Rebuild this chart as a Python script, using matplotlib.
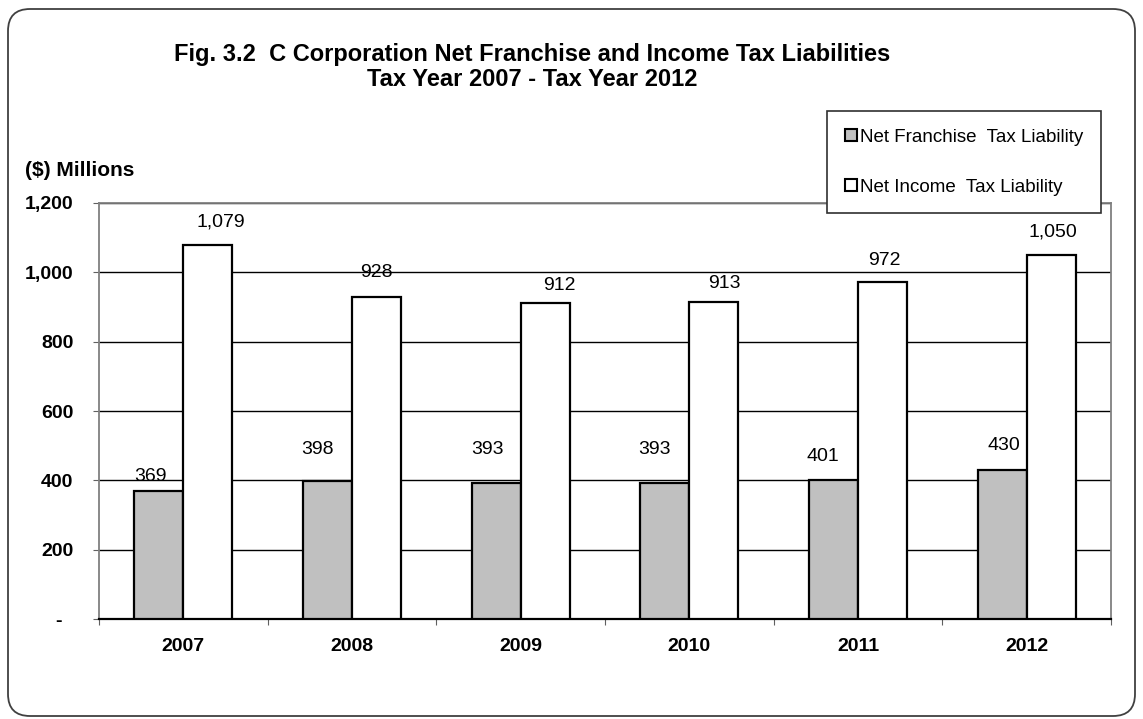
import matplotlib.pyplot as plt
from matplotlib.patches import Patch, FancyBboxPatch

plt.rcParams['font.family'] = ['Liberation Sans', 'DejaVu Sans']

years = ['2007', '2008', '2009', '2010', '2011', '2012']
franchise = [369, 398, 393, 393, 401, 430]
income = [1079, 928, 912, 913, 972, 1050]
y_ticks = [0, 200, 400, 600, 800, 1000, 1200]

# label nudges in pixels (dx, height of label centre above bar top), as placed in the original
franchise_nudge = [(-8, 15), (-10, 32), (-9, 33), (-10, 33), (-11, 23), (2, 24)]
income_nudge = [(13, 23), (0, 25), (14, 17), (11, 19), (2, 22), (2, 23)]

W, H = 1143, 719
fig = plt.figure(figsize=(W / 100, H / 100), dpi=100)

# rounded outer frame
frame = FancyBboxPatch((8, 3), 1127, 707, boxstyle='round,pad=0,rounding_size=22',
                       transform=None, facecolor='white', edgecolor='#404040',
                       linewidth=1.3, zorder=-5)
fig.patches.append(frame)

ax = fig.add_axes([99 / W, 100 / H, (1111 - 99) / W, (619 - 203) / H])
ax.set_facecolor('none')
ax.set_zorder(1)

x = list(range(len(years)))
bw = 0.29
gray_bars = ax.bar([i - bw / 2 for i in x], franchise, bw, color='#C0C0C0',
                   edgecolor='black', linewidth=1.6, zorder=3)
white_bars = ax.bar([i + bw / 2 for i in x], income, bw, color='white',
                    edgecolor='black', linewidth=1.6, zorder=3)

px = 72 / 100
for bars, vals, nudge in [(gray_bars, franchise, franchise_nudge),
                          (white_bars, income, income_nudge)]:
    for b, v, (dx, dy) in zip(bars, vals, nudge):
        ax.annotate(f'{v:,}', (b.get_x() + b.get_width() / 2, v),
                    xytext=(dx * px, dy * px), textcoords='offset points',
                    ha='center', va='center', fontsize=14, zorder=4)

ax.set_xlim(-0.5, len(years) - 0.5)
ax.set_ylim(0, 1200)
ax.set_yticks(y_ticks)
ax.set_yticklabels([f'{t:,}' if t else '-  ' for t in y_ticks],
                   fontsize=14, fontweight='bold')
ax.set_xticks([i - 0.5 for i in range(len(years) + 1)])
ax.set_xticklabels([])
ax.set_xticks(x, minor=True)
ax.set_xticklabels(years, minor=True, fontsize=14, fontweight='bold')
ax.tick_params(axis='x', which='major', length=4, color='#606060', direction='out')
ax.tick_params(axis='x', which='minor', length=0, pad=14)
ax.tick_params(axis='y', length=4.5, color='#606060', pad=14)

ax.yaxis.grid(True, color='black', linewidth=1)
ax.set_axisbelow(True)
for side in ['left', 'right', 'top']:
    ax.spines[side].set_color('#808080')
    ax.spines[side].set_linewidth(1.3)
ax.spines['bottom'].set_color('black')
ax.spines['bottom'].set_linewidth(1.6)

fig.text(532 / W, 1 - 67 / H,
         'Fig. 3.2  C Corporation Net Franchise and Income Tax Liabilities\nTax Year 2007 - Tax Year 2012',
         ha='center', va='center', fontsize=17, fontweight='bold', linespacing=1.1)
fig.text(25 / W, 1 - 170 / H, '($) Millions', ha='left', va='center',
         fontsize=15, fontweight='bold')

handles = [Patch(facecolor='#C0C0C0', edgecolor='black', linewidth=1.5),
           Patch(facecolor='white', edgecolor='black', linewidth=1.5)]
leg = fig.legend(handles, ['Net Franchise  Tax Liability', 'Net Income  Tax Liability'],
                 loc='upper left', bbox_to_anchor=(827 / W, 1 - 111 / H),
                 fontsize=13.5, handlelength=0.65, handleheight=0.65, handletextpad=0.15,
                 labelspacing=1.75, borderpad=0.95, borderaxespad=0,
                 fancybox=False, framealpha=1, edgecolor='#303030')
leg.get_frame().set_linewidth(1.2)
leg.set_zorder(5)

fig.savefig('out.png', dpi=100)
